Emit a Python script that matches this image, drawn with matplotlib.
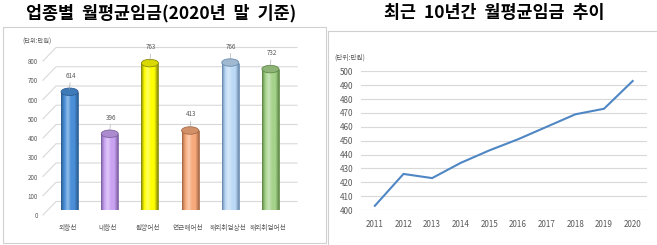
import matplotlib
matplotlib.use("Agg")
import matplotlib.pyplot as plt
import numpy as np
from matplotlib.patches import Ellipse, Rectangle, Arc
from matplotlib.colors import LinearSegmentedColormap, to_rgb, to_hex
from matplotlib.lines import Line2D

plt.rcParams['font.family'] = ['Noto Sans CJK KR', 'DejaVu Sans']

# ---------------- data ----------------
categories = ['외항선', '내항선', '원양어선', '연근해어선', '해외취업상선', '해외취업어선']
wages = [614, 396, 763, 413, 766, 732]
bar_colors = ['#4a8fd8', '#c9a3f2', '#ffff00', '#f7aa7c', '#bcdaf6', '#a6d38c']
edge_colors = ['#2d5f95', '#7f62a3', '#8a8a10', '#a86a45', '#6c8db0', '#5f8a48']
left_ticks = [0, 100, 200, 300, 400, 500, 600, 700, 800]

years = [2011, 2012, 2013, 2014, 2015, 2016, 2017, 2018, 2019, 2020]
trend = [403, 426, 423, 434, 443, 451, 460, 469, 473, 493]
right_ticks = [400, 410, 420, 430, 440, 450, 460, 470, 480, 490, 500]

left_title = '업종별  월평균임금(2020년  말  기준)'
right_title = '최근  10년간  월평균임금  추이'
unit_label = '(단위:만원)'

W, H = 657, 245
fig = plt.figure(figsize=(W / 100, H / 100), dpi=100)

def fx(px):
    return px / W

def fy(py):
    return 1 - py / H

grey_text = '#595959'
grid_col = '#d9d9d9'
frame_col = '#d0d0d0'

# ---------------- panel frames ----------------
fig.add_artist(Rectangle((fx(3), fy(243)), fx(323), (243 - 27) / H,
                         transform=fig.transFigure, fill=False, edgecolor=frame_col, lw=0.8))
fig.add_artist(Line2D([fx(328), fx(657)], [fy(31.5), fy(31.5)], transform=fig.transFigure,
                      color=frame_col, lw=0.8))
fig.add_artist(Line2D([fx(328), fx(328)], [fy(31.5), fy(245)], transform=fig.transFigure,
                      color=frame_col, lw=0.8))

# titles
fig.text(fx(161), fy(13), left_title, ha='center', va='center', fontsize=12.5,
         fontweight='bold', color='black')
fig.text(fx(494), fy(13), right_title, ha='center', va='center', fontsize=12.5,
         fontweight='bold', color='black')

# ---------------- left: 3D-like cylinder bar chart ----------------
px_per_unit = 0.1925
y_top = 850
axL = fig.add_axes([fx(49.5), fy(210), fx(241), y_top * px_per_unit / H])
axL.set_xlim(-0.5, 5.5)
axL.set_ylim(0, y_top)
axL.axis('off')

x_unit = 241 / 6.0  # px per category

def dxu(px):
    return px / x_unit

def dyu(px):
    return px / px_per_unit

# perspective grid lines
for v in left_ticks:
    xf, yf = -0.5 + dxu(-6.5), v - dyu(5)
    xb, yb = -0.5 + dxu(6.5), v + dyu(8.5)
    axL.plot([xf, xb, 5.5 + dxu(6.5)], [yf, yb, yb], color=grid_col, lw=0.8,
             clip_on=False, zorder=0)
    axL.text(-0.5 + dxu(-11.5), v - dyu(6), str(v), ha='right', va='center',
             fontsize=4.5, color=grey_text, clip_on=False)
axL.text(-0.5 + dxu(-12.5), 800 + dyu(14), unit_label, ha='center', va='center',
         fontsize=4.5, color=grey_text, clip_on=False)

bw = dxu(17)
eh = dyu(7.5)
xs = np.arange(len(categories))
for i, (v, c, ec) in enumerate(zip(wages, bar_colors, edge_colors)):
    light = to_hex(np.clip(np.array(to_rgb(c)) * 0.6 + 0.4, 0, 1))
    cmap = LinearSegmentedColormap.from_list('cyl', [ec, c, light, c, c, ec])
    grad = np.linspace(0, 1, 64).reshape(1, -1)
    # bottom cap (gradient clipped to ellipse)
    bot = Ellipse((xs[i], 0), bw, eh, transform=axL.transData)
    imb = axL.imshow(grad, cmap=cmap, extent=(xs[i] - bw / 2, xs[i] + bw / 2, -eh / 2, eh / 2),
                     aspect='auto', zorder=2, interpolation='bilinear')
    imb.set_clip_path(bot)
    im = axL.imshow(grad, cmap=cmap, extent=(xs[i] - bw / 2, xs[i] + bw / 2, 0, v),
                    aspect='auto', zorder=3, interpolation='bilinear')
    clip = Rectangle((xs[i] - bw / 2, 0), bw, v, transform=axL.transData)
    im.set_clip_path(clip)
    axL.vlines([xs[i] - bw / 2, xs[i] + bw / 2], 0, v, colors=ec, lw=0.6, zorder=4)
    axL.add_patch(Arc((xs[i], 0), bw, eh, theta1=180, theta2=360, edgecolor=ec, lw=0.6,
                      zorder=4))
    # top cap
    top_col = np.array(to_rgb(c)) * 0.85
    axL.add_patch(Ellipse((xs[i], v), bw, eh, facecolor=top_col, edgecolor=ec, lw=0.6,
                          zorder=5))
    axL.annotate(str(v), xy=(xs[i], v + eh * 0.3), xytext=(xs[i] + dxu(1), v + dyu(12)),
                 ha='center', va='bottom', fontsize=4.5, color=grey_text,
                 arrowprops=dict(arrowstyle='-', color='#a0a0a0', lw=0.4,
                                 shrinkA=0, shrinkB=0), zorder=6)
    axL.text(xs[i] - dxu(2), -dyu(18), categories[i], ha='center', va='center',
             fontsize=4.8, color=grey_text, clip_on=False)

# ---------------- right: line chart ----------------
axR = fig.add_axes([fx(360.5), fy(210), fx(286.5), (210 - 71.3) / H])
axR.set_xlim(2010.5, 2020.5)
axR.set_ylim(400, 500)
axR.plot(years, trend, color='#4f86c4', lw=1.5, solid_joinstyle='miter', zorder=3)
axR.set_yticks(right_ticks)
axR.set_xticks(years)
axR.set_xticklabels([str(y) for y in years])
axR.grid(axis='y', color=grid_col, lw=0.8)
axR.grid(axis='x', visible=False)
for s in axR.spines.values():
    s.set_visible(False)
axR.tick_params(axis='both', length=0, labelsize=5.8, labelcolor=grey_text)
axR.tick_params(axis='y', pad=5)
axR.tick_params(axis='x', pad=7)
fig.text(fx(350), fy(58), unit_label, ha='center', va='center', fontsize=4.8,
         color=grey_text)

fig.savefig('out.png', dpi=100)
